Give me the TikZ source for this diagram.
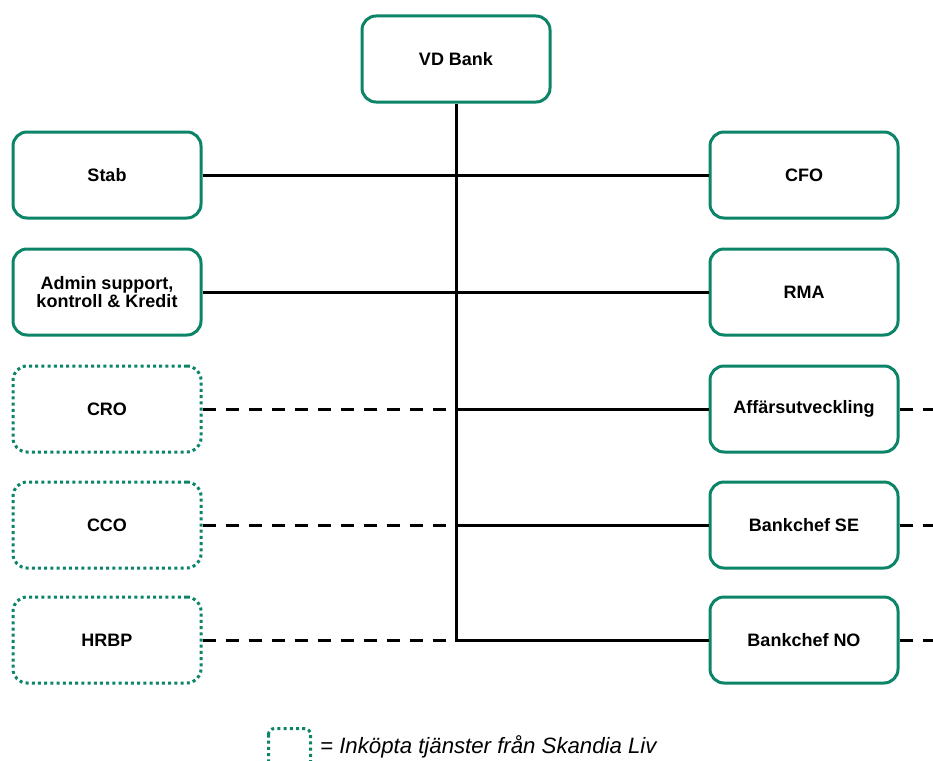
\documentclass[tikz,border=0pt]{standalone}
\usepackage{fontspec}
\setmainfont{Liberation Sans}
\definecolor{sgreen}{HTML}{0B8468}
\begin{document}
\begin{tikzpicture}[x=1pt,y=-1pt,
  box/.style={draw=sgreen, line width=3pt, rounded corners=14pt, fill=white,
    minimum width=188pt, minimum height=86pt, align=center, inner sep=0pt,
    font=\bfseries\fontsize{18}{18.8}\selectfont},
  boughtbox/.style={box, dash pattern=on 3pt off 3.2pt},
  solidline/.style={line width=3pt, black},
  dashline/.style={line width=3pt, black, dash pattern=on 13pt off 10pt}]
\useasboundingbox (0,0) rectangle (933,760);
% nodes
\node[box] (vd) at (456,59) {VD Bank};
\node[box] (stab) at (107,175) {Stab};
\node[box] (admin) at (107,292) {Admin support,\\kontroll \& Kredit};
\node[boughtbox] (cro) at (107,409) {CRO};
\node[boughtbox] (cco) at (107,525) {CCO};
\node[boughtbox] (hrbp) at (107,640) {HRBP};
\node[box] (cfo) at (804,175) {CFO};
\node[box] (rma) at (804,292) {RMA};
\node[box] (aff) at (804,409) {Affärsutveckling};
\node[box] (se) at (804,525) {Bankchef SE};
\node[box] (no) at (804,640) {Bankchef NO};
\coordinate (edge) at (935,0);
% connectors
\draw[solidline] (stab.east) -- (cfo.west);
\draw[solidline] (admin.east) -- (rma.west);
\draw[dashline] (cro.east) -- (aff.west);
\draw[dashline] (cco.east) -- (se.west);
\draw[dashline] (hrbp.east) -- (no.west);
\draw[dashline] (aff.east) -- (aff.east -| edge);
\draw[dashline] (se.east) -- (se.east -| edge);
\draw[dashline] (no.east) -- (no.east -| edge);
\draw[solidline] (vd.south) |- (no.west);
\draw[solidline] (vd.south |- aff.west) -- (aff.west);
\draw[solidline] (vd.south |- se.west) -- (se.west);
% legend
\begin{scope}
\clip (0,0) rectangle (933,760);
\draw[sgreen, line width=3pt, dash pattern=on 3pt off 3.2pt, rounded corners=6pt]
  (268.5,728.5) rectangle (310.5,780);
\end{scope}
\node[anchor=base west, inner sep=0pt, font=\itshape\fontsize{22.2}{26}\selectfont] (legtext) at (320,753) {= Inköpta tjänster från Skandia Liv};
\end{tikzpicture}
\end{document}
